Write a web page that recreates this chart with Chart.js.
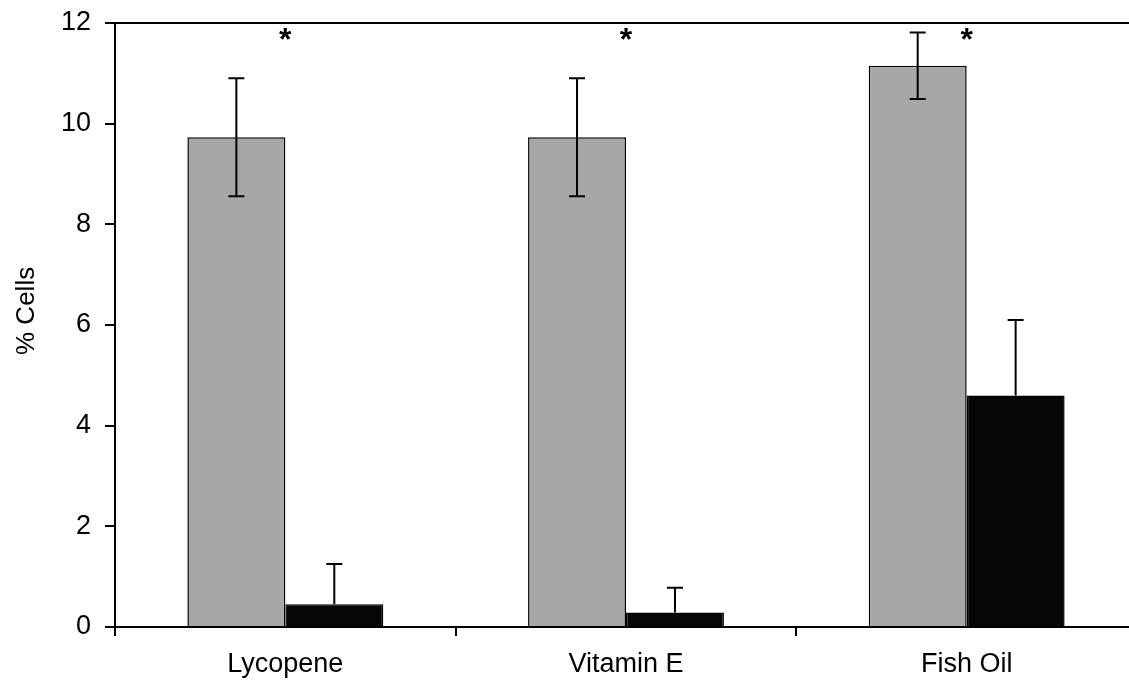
<!DOCTYPE html>
<html>
<head>
<meta charset="utf-8">
<script src="https://cdn.jsdelivr.net/npm/chart.js@4/dist/chart.umd.min.js"></script>
<style>
    html, body { margin: 0; padding: 0; background: #fff; overflow: hidden; }
    #wrap { width: 1140px; height: 681px; position: relative; }
</style>
</head>
<body>
<div id="wrap"><canvas id="chart"></canvas></div>
<script>
// categories and values
const categories = ['Lycopene', 'Vitamin E', 'Fish Oil'];
const grayValues = [9.73, 9.73, 11.15];
const grayErrors = [1.17, 1.17, 0.66];
const blackValues = [0.45, 0.29, 4.6];
const blackErrors = [0.8, 0.49, 1.5];
const starLevel = [11.46, 11.46, 11.46];   // "*" marks above each group
const yTicks = [0, 2, 4, 6, 8, 10, 12];
const yTitle = '% Cells';

const FONT = 'Liberation Sans, Arial, sans-serif';

// error bars: gray bars both ways, black bars upward only
const errorBars = {
    id: 'errorBars',
    afterDatasetsDraw(chart) {
        const ctx = chart.ctx;
        const y = chart.scales.y;
        const sets = [
            { errs: grayErrors, vals: grayValues, down: true },
            { errs: blackErrors, vals: blackValues, down: false }
        ];
        ctx.save();
        ctx.strokeStyle = '#000';
        ctx.lineWidth = 2;
        sets.forEach((s, di) => {
            const meta = chart.getDatasetMeta(di);
            meta.data.forEach((bar, i) => {
                const top = y.getPixelForValue(s.vals[i] + s.errs[i]);
                const bot = s.down ? y.getPixelForValue(s.vals[i] - s.errs[i]) : y.getPixelForValue(s.vals[i]);
                ctx.beginPath();
                ctx.moveTo(bar.x, top);
                ctx.lineTo(bar.x, bot);
                ctx.moveTo(bar.x - 8, top);
                ctx.lineTo(bar.x + 8, top);
                if (s.down) {
                    ctx.moveTo(bar.x - 8, bot);
                    ctx.lineTo(bar.x + 8, bot);
                }
                ctx.stroke();
            });
        });
        ctx.restore();
    }
};

// asterisks, the top frame line and the y title
const extras = {
    id: 'extras',
    afterDraw(chart) {
        const ctx = chart.ctx;
        const x = chart.scales.x;
        const y = chart.scales.y;
        const area = chart.chartArea;
        ctx.save();
        ctx.strokeStyle = '#000';
        ctx.lineWidth = 2;
        ctx.beginPath();
        ctx.moveTo(area.left - 10, area.top);
        ctx.lineTo(area.right, area.top);
        ctx.stroke();

        ctx.fillStyle = '#000';
        ctx.font = 'bold 32px ' + FONT;
        ctx.textAlign = 'center';
        ctx.textBaseline = 'alphabetic';
        categories.forEach((c, i) => {
            ctx.fillText('*', x.getPixelForValue(i), y.getPixelForValue(starLevel[i]));
        });

        ctx.font = '26px ' + FONT;
        ctx.textBaseline = 'middle';
        ctx.translate(27, y.getPixelForValue(6.28));
        ctx.rotate(-Math.PI / 2);
        ctx.fillText(yTitle, 0, 0);
        ctx.restore();
    }
};

new Chart(document.getElementById('chart'), {
    type: 'bar',
    data: {
        labels: categories,
        datasets: [
            {
                label: 'treated',
                data: grayValues,
                backgroundColor: '#a7a7a7',
                borderColor: '#000',
                borderWidth: 1.5,
                borderSkipped: 'bottom'
            },
            {
                label: 'control',
                data: blackValues,
                backgroundColor: '#060606',
                borderColor: '#000',
                borderWidth: 1.5,
                borderSkipped: 'bottom'
            }
        ]
    },
    options: {
        responsive: true,
        maintainAspectRatio: false,
        animation: false,
        layout: { padding: { top: 23, right: 3, left: 0, bottom: 0 } },
        plugins: {
            legend: { display: false },
            tooltip: { enabled: false }
        },
        datasets: {
            bar: { categoryPercentage: 0.575, barPercentage: 1.0 }
        },
        scales: {
            x: {
                offset: true,
                grid: {
                    offset: true,
                    drawOnChartArea: false,
                    drawTicks: true,
                    tickLength: 9,
                    color: '#000',
                    lineWidth: 2
                },
                border: { color: '#000', width: 2 },
                ticks: {
                    color: '#000',
                    padding: 12,
                    font: { family: FONT, size: 27 }
                },
                afterFit: s => { s.height = 54; s.paddingLeft = 0; s.paddingRight = 0; }
            },
            y: {
                min: 0,
                max: 12,
                afterBuildTicks: s => { s.ticks = yTicks.map(v => ({ value: v })); },
                grid: {
                    drawOnChartArea: false,
                    drawTicks: true,
                    tickLength: 10,
                    color: '#000',
                    lineWidth: 2
                },
                border: { color: '#000', width: 2 },
                ticks: {
                    color: '#000',
                    padding: 14,
                    font: { family: FONT, size: 27 }
                },
                afterFit: s => { s.width = 115; s.paddingTop = 0; s.paddingBottom = 0; }
            }
        }
    },
    plugins: [errorBars, extras]
});
</script>
</body>
</html>
